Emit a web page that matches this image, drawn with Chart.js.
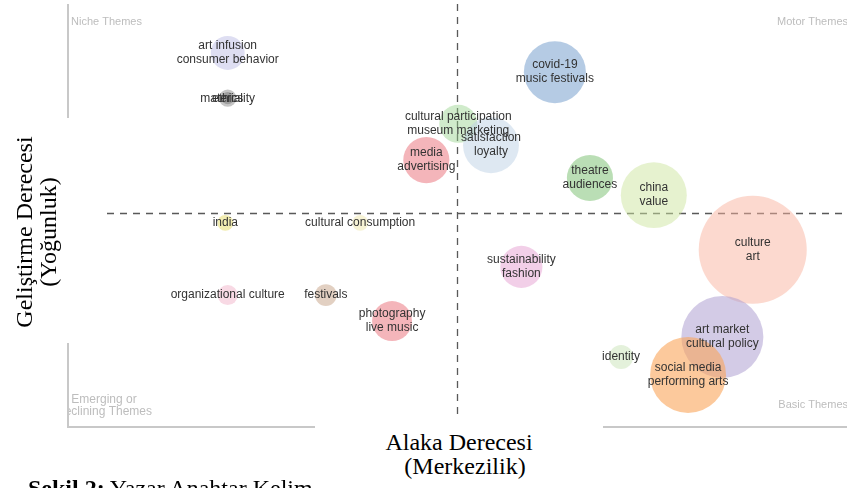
<!DOCTYPE html>
<html>
<head>
<meta charset="utf-8">
<script src="https://cdn.jsdelivr.net/npm/chart.js@4/dist/chart.umd.min.js"></script>
<style>
  html, body { margin: 0; padding: 0; background: #fff; }
  #wrap { position: relative; width: 847px; height: 488px; overflow: hidden; }
  canvas { position: absolute; left: 0; top: 0; }
  .box { position: absolute; background: #fff; }
  .serif { font-family: "Liberation Serif", "Times New Roman", serif; font-size: 24px; line-height: 24px; color: #000; }
</style>
</head>
<body>
<div id="wrap">
  <canvas id="map" width="847" height="488"></canvas>
  <div class="serif" style="position:absolute; left:28px; top:476px; white-space:nowrap;"><b>Şekil 2:</b> Yazar Anahtar Kelim</div>
  <div class="box" style="left:0; top:118px; width:102px; height:225px;">
    <div class="serif" style="position:absolute; left:-94px; top:90px; width:260px; height:48px; text-align:center; transform:rotate(-90deg);">Geliştirme Derecesi<br>(Yoğunluk)</div>
  </div>
  <div class="box serif" style="left:315px; top:415px; width:288px; height:73px; text-align:center; padding-top:15px; box-sizing:border-box;">
    Alaka Derecesi<br><span style="position:relative; left:6px;">(Merkezilik)</span>
  </div>
</div>
<script>
// thematic map: centrality (x), density (y), frequency (bubble size)
const themes = [
  ['art infusion', 'consumer behavior'],
  ['materiality'],
  ['ethics'],
  ['covid-19', 'music festivals'],
  ['cultural participation', 'museum marketing'],
  ['satisfaction', 'loyalty'],
  ['media', 'advertising'],
  ['theatre', 'audiences'],
  ['china', 'value'],
  ['culture', 'art'],
  ['india'],
  ['cultural consumption'],
  ['sustainability', 'fashion'],
  ['organizational culture'],
  ['festivals'],
  ['photography', 'live music'],
  ['identity'],
  ['art market', 'cultural policy'],
  ['social media', 'performing arts']
];
const centrality = [20.5, 20.5, 20.5, 62.5, 50.1, 54.3, 46.0, 67.0, 75.2, 87.9, 20.2, 37.5, 58.2, 20.5, 33.1, 41.6, 71.0, 84.0, 79.6];
const density    = [87.6, 77.0, 77.0, 83.1, 71.0, 66.0, 62.5, 58.3, 54.3, 41.5, 47.8, 47.8, 37.5, 30.9, 30.9, 24.8, 16.4, 21.1, 12.2];
const frequency  = [46, 12, 6, 154, 58, 125, 85, 85, 174, 467, 10, 10, 71, 16, 19, 64, 23, 269, 231];
const quadrantLabels = ['Niche Themes', 'Motor Themes', 'Emerging or', 'Declining Themes', 'Basic Themes'];
const medianCentrality = 50;
const medianDensity = 50;

const colors = [
  'rgba(190,190,230,0.5)', 'rgba(110,110,110,0.4)', 'rgba(110,110,110,0.45)',
  'rgba(120,160,205,0.55)', 'rgba(150,210,140,0.45)', 'rgba(190,210,230,0.5)',
  'rgba(235,120,130,0.55)', 'rgba(130,195,120,0.55)', 'rgba(205,230,160,0.5)',
  'rgba(250,180,160,0.5)', 'rgba(230,220,100,0.5)', 'rgba(235,225,150,0.4)',
  'rgba(230,160,210,0.5)', 'rgba(240,170,195,0.45)', 'rgba(190,150,120,0.45)',
  'rgba(235,120,130,0.55)', 'rgba(195,225,175,0.45)', 'rgba(175,160,210,0.55)',
  'rgba(250,165,90,0.6)'
];

const points = centrality.map((x, i) => ({ x: x, y: density[i], r: 2.5 * Math.sqrt(frequency[i]) }));

const mapDecor = {
  id: 'mapDecor',
  beforeDatasetsDraw(chart) {
    const { ctx, chartArea: a, scales } = chart;
    ctx.save();
    // axis lines
    ctx.strokeStyle = '#c8c8c8';
    ctx.lineWidth = 2;
    ctx.beginPath();
    ctx.moveTo(a.left, a.top + 4);
    ctx.lineTo(a.left, a.bottom);
    ctx.lineTo(a.right, a.bottom);
    ctx.stroke();
    // median lines
    const mx = scales.x.getPixelForValue(medianCentrality);
    const my = scales.y.getPixelForValue(medianDensity);
    ctx.strokeStyle = 'rgba(60,60,60,0.85)';
    ctx.lineWidth = 1.3;
    ctx.setLineDash([7, 6]);
    ctx.beginPath();
    ctx.moveTo(mx, a.top + 4);
    ctx.lineTo(mx, a.bottom);
    ctx.moveTo(a.left, my);
    ctx.lineTo(a.right, my);
    ctx.stroke();
    ctx.setLineDash([]);
    // quadrant labels
    ctx.beginPath();
    ctx.rect(a.left + 1, a.top, a.right - a.left, a.bottom - a.top);
    ctx.clip();
    ctx.fillStyle = '#bdbdbd';
    ctx.font = '11px "Liberation Sans", Arial, sans-serif';
    ctx.textBaseline = 'middle';
    ctx.textAlign = 'left';
    ctx.fillText(quadrantLabels[0], a.left + 3, a.top + 22);
    ctx.textAlign = 'right';
    ctx.fillText(quadrantLabels[1], a.right + 1, a.top + 22);
    ctx.fillText(quadrantLabels[4], a.right + 1, a.bottom - 22);
    ctx.font = '12px "Liberation Sans", Arial, sans-serif';
    ctx.textAlign = 'center';
    ctx.fillText(quadrantLabels[2], a.left + 36, a.bottom - 27);
    ctx.fillText(quadrantLabels[3], a.left + 36, a.bottom - 15);
    ctx.restore();
  },
  afterDatasetsDraw(chart) {
    const { ctx } = chart;
    const meta = chart.getDatasetMeta(0);
    ctx.save();
    ctx.fillStyle = '#333';
    ctx.font = '12px "Liberation Sans", Arial, sans-serif';
    ctx.textAlign = 'center';
    ctx.textBaseline = 'middle';
    meta.data.forEach((el, i) => {
      const lines = themes[i];
      const step = 14;
      const y0 = el.y - (lines.length - 1) * step / 2;
      lines.forEach((t, j) => ctx.fillText(t, el.x, y0 + j * step));
    });
    ctx.restore();
  }
};

new Chart(document.getElementById('map').getContext('2d'), {
  type: 'bubble',
  data: {
    datasets: [{
      data: points,
      backgroundColor: colors,
      borderWidth: 0
    }]
  },
  options: {
    responsive: false,
    animation: false,
    events: [],
    layout: { autoPadding: false, padding: { left: 68, right: 0, top: 0, bottom: 61 } },
    scales: {
      x: { type: 'linear', min: 0, max: 100, display: false },
      y: { type: 'linear', min: 0, max: 100, display: false }
    },
    plugins: {
      legend: { display: false },
      tooltip: { enabled: false }
    }
  },
  plugins: [mapDecor]
});
</script>
</body>
</html>
